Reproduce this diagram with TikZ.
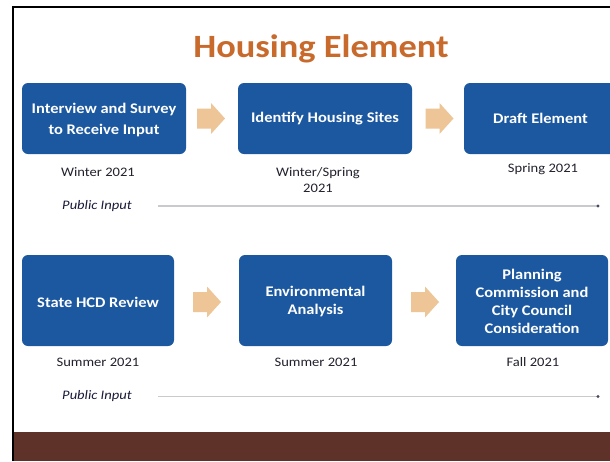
\documentclass[tikz,border=0pt]{standalone}
\usepackage{fontspec}
\setmainfont{Carlito}[FakeStretch=1.12]
\definecolor{boxblue}{HTML}{1C58A0}
\definecolor{titleorange}{HTML}{C86A2C}
\definecolor{arrowtan}{HTML}{EDC596}
\definecolor{bandbrown}{HTML}{5E3229}
\definecolor{linegray}{HTML}{C9CACE}
\definecolor{labeltext}{HTML}{22222E}
\definecolor{inputtext}{HTML}{1A1A3A}
\tikzset{
  x=1pt, y=-1pt,
  stage/.style={fill=boxblue, rounded corners=6pt, draw=none},
  stagetext/.style={text=white, font=\bfseries\fontsize{14.7}{21}\selectfont, align=center},
  tight/.style={font=\bfseries\fontsize{14.7}{18}\selectfont},
  when/.style={text=labeltext, font=\fontsize{13}{16}\selectfont, align=center},
  pubin/.style={text=inputtext, font=\itshape\fontsize{13}{15}\selectfont},
  timeline/.style={draw=linegray, line width=1.6pt},
  flowarrow/.pic={
    \fill[arrowtan] (-14,-10) -- (0,-10) -- (0,-15.5) -- (14,0)
      -- (0,15.5) -- (0,10) -- (-14,10) -- cycle;
  },
}
\begin{document}
\begin{tikzpicture}
\useasboundingbox (0,0) rectangle (610,461);
\fill[white] (0,0) rectangle (610,461);
% frame and footer band
\fill[bandbrown] (13,432) rectangle (610,461);
\draw[black, line width=1.6pt] (13,461) -- (13,7) -- (610,7);

\node[text=titleorange, font=\bfseries\fontsize{32.5}{36}\selectfont] (title) at (321,49) {Housing Element};

% first row
\fill[stage] (22,83) rectangle (186,154);
\node[stagetext] (s1) at (104,119.5) {Interview and Survey\\to Receive Input};
\fill[stage] (238,83) rectangle (412,154);
\node[stagetext] (s2) at (325,118.5) {Identify Housing Sites};
\fill[stage] (464,83) rectangle (640,154);
\node[stagetext] (s3) at (540.5,118.5) {Draft Element};
\pic (a1) at (211,118.5) {flowarrow};
\pic (a2) at (439.5,118.5) {flowarrow};
\node[when] (w1) at (98,172) {Winter 2021};
\node[when] (w2) at (318,180) {Winter/Spring\\2021};
\node[when] (w3) at (543,169.5) {Spring 2021};
\node[pubin] (p1) at (97,206) {Public Input};
\coordinate (p1s) at (158,206);
\coordinate (p1e) at (598,206);
\draw[timeline] (p1s) -- (p1e);
\fill[inputtext!80] (p1e) circle (1.6pt);

% second row
\fill[stage] (22,255) rectangle (174,346);
\node[stagetext] (s4) at (98,302) {State HCD Review};
\fill[stage] (239,255) rectangle (392,346);
\node[stagetext, tight] (s5) at (315.5,301) {Environmental\\Analysis};
\fill[stage] (456,255) rectangle (608,346);
\node[stagetext, tight] (s6) at (532,301) {Planning\\Commission and\\City Council\\Consideration};
\pic (a3) at (207,302) {flowarrow};
\pic (a4) at (425,302) {flowarrow};
\node[when] (w4) at (98,362) {Summer 2021};
\node[when] (w5) at (316,362) {Summer 2021};
\node[when] (w6) at (533,362) {Fall 2021};
\node[pubin] (p2) at (97,396.5) {Public Input};
\coordinate (p2s) at (158,396.5);
\coordinate (p2e) at (598,396.5);
\draw[timeline] (p2s) -- (p2e);
\fill[inputtext!80] (p2e) circle (1.6pt);
\end{tikzpicture}
\end{document}
